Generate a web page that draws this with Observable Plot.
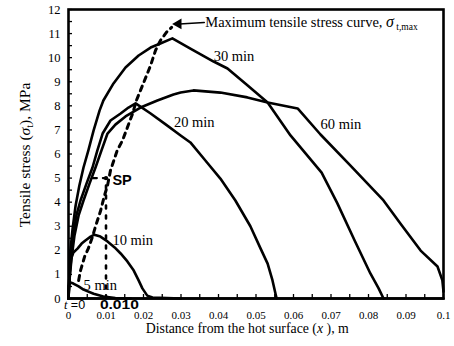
<!DOCTYPE html>
<html><head><meta charset="utf-8">
<script src="https://cdn.jsdelivr.net/npm/d3@7"></script>
<script src="https://cdn.jsdelivr.net/npm/@observablehq/plot@0.6"></script>
<style>body{margin:0;background:#fff}#chart svg{display:block;font-family:"Liberation Serif","Times New Roman",serif !important}</style>
</head><body><div id="chart"></div>
<script>
const xTicks = [0,0.01,0.02,0.03,0.04,0.05,0.06,0.07,0.08,0.09,0.1];
const xTickLabels = ["0","0.01","0.02","0.03","0.04","0.05","0.06","0.07","0.08","0.09","0.1"];
const yTicks = [0,1,2,3,4,5,6,7,8,9,10,11,12];

const curve5 = [[0,0],[0.0001,0.54],[0.0005,0.66],[0.0013,0.62],[0.0027,0.5],[0.004,0.37],[0.0067,0.2],[0.0093,0.08],[0.0125,0.02],[0.0166,0]];
const curve10 = [[0,0],[0.0001,0.54],[0.0003,1.08],[0.0005,1.58],[0.0013,1.91],[0.0024,2.07],[0.0035,2.28],[0.0045,2.41],[0.0059,2.57],[0.0069,2.65],[0.0085,2.57],[0.0104,2.37],[0.0123,2.12],[0.0139,1.87],[0.0157,1.54],[0.0174,1.16],[0.0187,0.75],[0.0197,0.42],[0.021,0.12],[0.0224,0.04],[0.03,0]];
const curve20 = [[0,0],[0.0003,0.96],[0.0008,1.78],[0.0013,2.62],[0.0021,3.45],[0.0032,4.07],[0.0048,4.77],[0.0064,5.44],[0.0077,6.15],[0.0091,6.85],[0.0112,7.39],[0.0139,7.68],[0.016,7.93],[0.0179,8.1],[0.0219,7.68],[0.0259,7.23],[0.0299,6.77],[0.0325,6.48],[0.0365,5.73],[0.0405,4.98],[0.0445,4.07],[0.0485,3.0],[0.0512,2.08],[0.0531,1.45],[0.0544,0.75],[0.0552,0.2],[0.0555,0]];
const curve30 = [[0,0],[0.0003,1.16],[0.0005,1.99],[0.0011,2.91],[0.0019,3.86],[0.0029,4.69],[0.004,5.44],[0.0053,6.15],[0.0067,6.98],[0.0083,7.81],[0.0093,8.22],[0.012,8.93],[0.0152,9.59],[0.0187,10.09],[0.0219,10.42],[0.0245,10.59],[0.0277,10.8],[0.0325,10.38],[0.0387,9.84],[0.0424,9.55],[0.0477,8.85],[0.0531,8.14],[0.0592,6.77],[0.0675,5.23],[0.0717,3.95],[0.0763,2.41],[0.0805,1.04],[0.0827,0.42],[0.084,0]];
const curve60 = [[0,0],[0.0003,0.83],[0.0008,1.66],[0.0016,2.62],[0.0027,3.45],[0.004,4.07],[0.0056,4.77],[0.0072,5.44],[0.0088,6.15],[0.0104,6.85],[0.0125,7.22],[0.0152,7.56],[0.0192,7.93],[0.0237,8.22],[0.028,8.47],[0.0299,8.55],[0.0333,8.64],[0.0405,8.55],[0.0477,8.35],[0.0531,8.14],[0.0611,7.89],[0.0672,6.81],[0.0752,5.52],[0.084,4.07],[0.0885,3.11],[0.0939,1.99],[0.0984,1.33],[0.0997,0.75],[0.1,0.29]];
const curve0 = [[0,0],[0.1,0]];
const maxCurve = [[0.0027,0.75],[0.0032,1.16],[0.0043,1.74],[0.0053,2.08],[0.0064,2.57],[0.0072,2.99],[0.0085,3.61],[0.0096,4.28],[0.0104,4.69],[0.0112,5.32],[0.013,6.15],[0.0144,6.56],[0.0157,7.1],[0.0171,7.68],[0.0181,8.22],[0.0192,8.64],[0.0205,9.14],[0.0219,9.68],[0.0232,10.3],[0.0245,10.71],[0.0261,11.05],[0.0275,11.26]];
const spLine = [[0.01,0],[0.01,5]];
const spHoriz = [[0.0065,5],[0.01,5]];
const spPoint = [[0.01,5]];
const arrowLine = [[0.0362,11.46],[0.0296,11.4]];
const arrowHead = [[0.0293,11.4]];

const curveNames = ["t=0","5 min","10 min","20 min","30 min","60 min"];
const curveData = [curve0,curve5,curve10,curve20,curve30,curve60];
const labelText = ["30 min","20 min","60 min","10 min","5 min"];
const labelX = [0.0387,0.0281,0.0672,0.0117,0.004];
const labelY = [10.05,7.3,7.22,2.4,0.54];

const rows = curveData.flatMap((c,i)=>c.map(([x,y])=>({series:curveNames[i],x,y})));
const labels = labelText.map((t,i)=>({t,x:labelX[i],y:labelY[i]}));
const serif = "Liberation Serif";
const sans = "Liberation Sans";

const plot = Plot.plot({
  width: 454, height: 346,
  marginLeft: 68, marginRight: 11, marginTop: 9, marginBottom: 48,
  style: {background: "#fff", color: "#000"},
  x: {domain: [0,0.1]},
  y: {domain: [0,12]},
  marks: [
    Plot.axisX(d3.range(0,0.1001,0.005), {tickSize:-4, fill:"none", strokeWidth:1.3, label:null}),
    Plot.axisY(d3.range(0,12.01,0.5), {tickSize:-4, fill:"none", strokeWidth:1.3, label:null}),
    Plot.axisX(xTicks, {tickSize:0, tickPadding:13, fontSize:11, fontFamily:serif, tickFormat:d=>xTickLabels[xTicks.indexOf(d)], label:null}),
    Plot.axisY(yTicks, {tickSize:0, tickPadding:8, fontSize:12.5, fontFamily:serif, label:null}),
    Plot.line(rows, {x:"x", y:"y", z:"series", stroke:"#000", strokeWidth:2.6, strokeLinejoin:"round"}),
    Plot.line(maxCurve, {x:d=>d[0], y:d=>d[1], stroke:"#000", strokeWidth:3, strokeDasharray:"5,5"}),
    Plot.line(spLine, {x:d=>d[0], y:d=>d[1], stroke:"#000", strokeWidth:2.6, strokeDasharray:"3,7"}),
    Plot.line(spHoriz, {x:d=>d[0], y:d=>d[1], stroke:"#000", strokeWidth:2.2, strokeDasharray:"4,6"}),
    Plot.dot(spPoint, {x:d=>d[0], y:d=>d[1], r:2.2, fill:"#000"}),
    Plot.line(arrowLine, {x:d=>d[0], y:d=>d[1], stroke:"#000", strokeWidth:1.6}),
    Plot.dot(arrowHead, {x:d=>d[0], y:d=>d[1], symbol:"triangle", r:4, fill:"#000", rotate:-90}),
    Plot.text(labels, {x:"x", y:"y", text:"t", textAnchor:"start", fontSize:14.5, fontFamily:serif, fill:"#000"}),
    Plot.text(["SP"], {x:()=>0.0117, y:()=>4.9, text:d=>d, textAnchor:"start", fontSize:14.5, fontWeight:"bold", fontFamily:sans, fill:"#000"}),
    Plot.frame({stroke:"#000", strokeWidth:2.6})
  ]
});
document.getElementById("chart").appendChild(plot);

const sx = plot.scale("x"), sy = plot.scale("y");
const svg = d3.select(plot);
// 0.010
svg.append("text").attr("x", sx.apply(0.0085)).attr("y", sy.apply(-0.27)).attr("dy","0.35em")
  .attr("text-anchor","start").attr("font-family",sans).attr("font-weight","bold").attr("font-size",12)
  .attr("textLength",39).attr("lengthAdjust","spacingAndGlyphs").attr("fill","#000").text("0.010");
// t = 0
const t0 = svg.append("text").attr("x", sx.apply(-0.0011)).attr("y", sy.apply(-0.27)).attr("dy","0.35em")
  .attr("text-anchor","start").attr("font-size",12.5).attr("fill","#000");
t0.append("tspan").attr("font-family",serif).attr("font-style","italic").text("t");
t0.append("tspan").attr("font-family",sans).text(" =0");
// Max curve label
const mt = svg.append("text").attr("x", sx.apply(0.0366)).attr("y", sy.apply(11.46)).attr("dy","0.35em")
  .attr("text-anchor","start").attr("font-family",serif).attr("font-size",14.5).attr("fill","#000");
mt.append("tspan").text("Maximum tensile stress curve, ");
mt.append("tspan").attr("font-style","italic").attr("font-size",16).text("σ");
mt.append("tspan").attr("font-size",9.5).attr("dy","3").text(" t,max");
// X title
svg.append("text").attr("x", sx.apply(0.0478)).attr("y", 333).attr("text-anchor","middle")
  .attr("font-family",serif).attr("font-size",13.8).attr("fill","#000")
  .call(t=>{t.append("tspan").text("Distance from the hot surface (");t.append("tspan").attr("font-style","italic").text("x");t.append("tspan").text(" ), m");});
// Y title
const yt = svg.append("text").attr("transform",`translate(25,155) rotate(-90)`).attr("dy","0.35em").attr("text-anchor","middle")
  .attr("font-family",serif).attr("font-size",15.5).attr("fill","#000");
yt.append("tspan").text("Tensile stress (");
yt.append("tspan").attr("font-style","italic").text("σ");
yt.append("tspan").attr("font-size",10).attr("dy","3").text("t");
yt.append("tspan").attr("dy","-3").text("), MPa");
</script></body></html>
